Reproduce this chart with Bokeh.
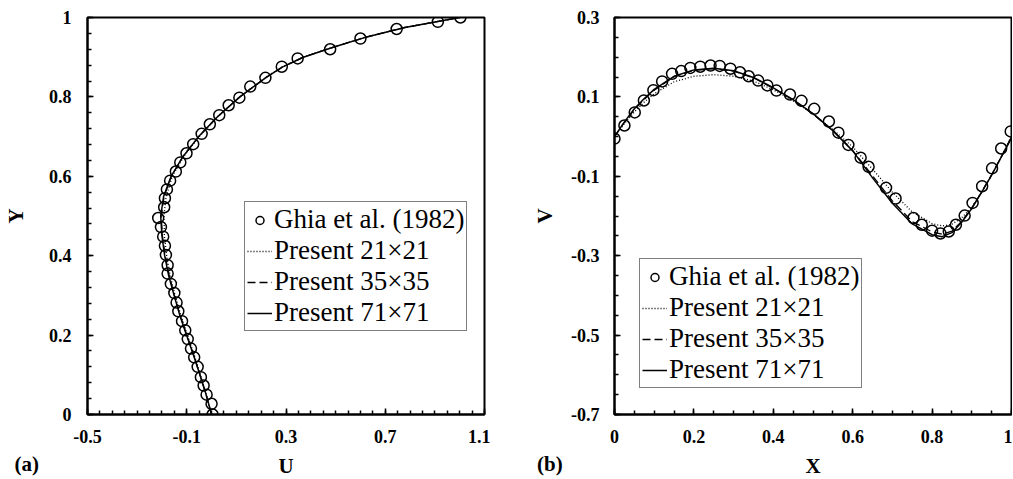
from bokeh.plotting import figure
from bokeh.layouts import row
from bokeh.models import Range1d, FixedTicker, Legend, LegendItem, Label
from bokeh.embed import file_html
from bokeh.resources import INLINE

# ---------------- Panel (a): U along vertical centreline ----------------
ghia_y = [1.0, 0.989, 0.971, 0.947, 0.920, 0.897, 0.876, 0.848, 0.826, 0.798,
          0.779, 0.754, 0.731, 0.707, 0.681, 0.658, 0.635, 0.612, 0.589, 0.567,
          0.545, 0.522, 0.495, 0.472, 0.448, 0.425, 0.402, 0.376, 0.355, 0.329,
          0.306, 0.282, 0.260, 0.235, 0.212, 0.190, 0.166, 0.144, 0.120, 0.094,
          0.073, 0.050, 0.027, 0.0]
ghia_u = [1.003, 0.912, 0.746, 0.600, 0.478, 0.347, 0.283, 0.217, 0.156, 0.112,
          0.069, 0.031, -0.007, -0.040, -0.074, -0.101, -0.126, -0.144, -0.167, -0.180,
          -0.188, -0.191, -0.215, -0.204, -0.195, -0.188, -0.184, -0.177, -0.177, -0.164,
          -0.150, -0.141, -0.134, -0.119, -0.106, -0.096, -0.083, -0.070, -0.056, -0.043,
          -0.032, -0.020, 0.000, 0.004]

y_line = [0.0, 0.05, 0.1, 0.15, 0.2, 0.25, 0.3, 0.35, 0.4, 0.45, 0.5, 0.55, 0.6,
          0.65, 0.7, 0.75, 0.8, 0.85, 0.875, 0.9, 0.925, 0.95, 0.975, 1.0]
u_21 = [0.0, -0.021, -0.045, -0.070, -0.097, -0.124, -0.147, -0.167, -0.181, -0.190,
        -0.192, -0.183, -0.158, -0.112, -0.050, 0.024, 0.113, 0.220, 0.283, 0.368,
        0.488, 0.618, 0.778, 1.0]
u_35 = [0.0, -0.022, -0.047, -0.072, -0.100, -0.127, -0.150, -0.171, -0.187, -0.198,
        -0.203, -0.191, -0.162, -0.115, -0.052, 0.024, 0.114, 0.222, 0.285, 0.370,
        0.490, 0.620, 0.780, 1.0]
u_71 = [0.0, -0.022, -0.047, -0.073, -0.101, -0.128, -0.151, -0.173, -0.189, -0.200,
        -0.205, -0.193, -0.163, -0.115, -0.052, 0.024, 0.114, 0.222, 0.285, 0.370,
        0.490, 0.620, 0.780, 1.0]

# ---------------- Panel (b): V along horizontal centreline ----------------
ghia_x = [0.0, 0.025, 0.051, 0.074, 0.098, 0.120, 0.145, 0.168, 0.191, 0.216,
          0.242, 0.265, 0.292, 0.316, 0.338, 0.362, 0.385, 0.408, 0.442, 0.471,
          0.503, 0.540, 0.564, 0.589, 0.620, 0.640, 0.684, 0.708, 0.753, 0.774,
          0.800, 0.821, 0.842, 0.860, 0.882, 0.902, 0.926, 0.951, 0.974, 0.998]
ghia_v = [-0.005, 0.028, 0.061, 0.091, 0.117, 0.139, 0.158, 0.165, 0.173, 0.176,
          0.179, 0.178, 0.171, 0.162, 0.152, 0.141, 0.129, 0.116, 0.106, 0.090,
          0.070, 0.038, 0.010, -0.021, -0.053, -0.076, -0.129, -0.156, -0.205, -0.222,
          -0.237, -0.244, -0.239, -0.222, -0.199, -0.167, -0.125, -0.080, -0.030, 0.013]

x_line = [0.0, 0.025, 0.05, 0.075, 0.1, 0.15, 0.2, 0.25, 0.3, 0.35, 0.4, 0.45, 0.5,
          0.55, 0.6, 0.65, 0.7, 0.75, 0.8, 0.825, 0.85, 0.875, 0.9, 0.925, 0.95, 0.975, 1.0]
v_21 = [0.0, 0.033, 0.062, 0.087, 0.108, 0.138, 0.152, 0.156, 0.152, 0.140, 0.118,
        0.090, 0.057, 0.018, -0.026, -0.082, -0.140, -0.190, -0.219, -0.225, -0.221,
        -0.204, -0.178, -0.140, -0.097, -0.050, 0.0]
v_35 = [0.0, 0.036, 0.068, 0.094, 0.117, 0.151, 0.167, 0.171, 0.165, 0.148, 0.122,
        0.092, 0.057, 0.015, -0.035, -0.099, -0.162, -0.214, -0.240, -0.246, -0.238,
        -0.213, -0.180, -0.139, -0.096, -0.050, 0.0]
v_71 = [0.0, 0.037, 0.070, 0.096, 0.119, 0.152, 0.168, 0.172, 0.166, 0.149, 0.123,
        0.093, 0.058, 0.015, -0.036, -0.104, -0.168, -0.220, -0.247, -0.252, -0.242,
        -0.215, -0.181, -0.140, -0.097, -0.050, -0.004]

# ---------------- Tick labels ----------------
a_xticks = [-0.5, -0.1, 0.3, 0.7, 1.1]
a_xlabels = ["-0.5", "-0.1", "0.3", "0.7", "1.1"]
a_yticks = [0.0, 0.2, 0.4, 0.6, 0.8, 1.0]
a_ylabels = ["0", "0.2", "0.4", "0.6", "0.8", "1"]
b_xticks = [0.0, 0.2, 0.4, 0.6, 0.8, 1.0]
b_xlabels = ["0", "0.2", "0.4", "0.6", "0.8", "1"]
b_yticks = [-0.7, -0.5, -0.3, -0.1, 0.1, 0.3]
b_ylabels = ["-0.7", "-0.5", "-0.3", "-0.1", "0.1", "0.3"]

SERIF = "Liberation Serif"


def minor(lo, hi, step):
    n = int(round((hi - lo) / step))
    return [round(lo + i * step, 4) for i in range(n + 1)]


def style_axis(ax, ticks, labels, minors, standoff, label_standoff):
    ax.ticker = FixedTicker(ticks=ticks, minor_ticks=minors)
    ax.major_label_overrides = {t: l for t, l in zip(ticks, labels)}
    ax.major_label_text_font = SERIF
    ax.major_label_text_font_style = "bold"
    ax.major_label_text_font_size = "18px"
    ax.major_label_text_color = "black"
    ax.major_label_standoff = standoff
    ax.axis_label_text_font = SERIF
    ax.axis_label_text_font_style = "bold"
    ax.axis_label_text_font_size = "21px"
    ax.axis_label_text_color = "black"
    ax.axis_label_standoff = label_standoff
    ax.axis_line_color = "black"
    ax.axis_line_width = 2
    ax.major_tick_in = 6
    ax.major_tick_out = 0
    ax.minor_tick_in = 4
    ax.minor_tick_out = 0
    ax.major_tick_line_color = "black"
    ax.minor_tick_line_color = "black"
    ax.major_tick_line_width = 1.5
    ax.minor_tick_line_width = 1.5


def make_panel(xr, yr, xlab, ylab, border_left, border_right):
    p = figure(x_range=Range1d(*xr), y_range=Range1d(*yr),
               frame_width=397, frame_height=397,
               min_border_left=border_left, min_border_right=border_right,
               min_border_top=17, min_border_bottom=64,
               output_backend="svg", toolbar_location=None,
               x_axis_label=xlab, y_axis_label=ylab)
    p.xgrid.visible = False
    p.ygrid.visible = False
    p.outline_line_color = "black"
    p.outline_line_width = 2
    p.outline_line_alpha = 1
    p.background_fill_color = "white"
    p.border_fill_color = "white"
    return p


def add_series(p, xs_line, c21, c35, c71, gx, gy, horizontal):
    if horizontal:
        r21 = p.line(xs_line, c21, line_color="black", line_width=1.3, line_dash="1 2")
        r35 = p.line(xs_line, c35, line_color="black", line_width=1.3, line_dash="8 4")
        r71 = p.line(xs_line, c71, line_color="black", line_width=1.5)
    else:
        r21 = p.line(c21, xs_line, line_color="black", line_width=1.3, line_dash="1 2")
        r35 = p.line(c35, xs_line, line_color="black", line_width=1.3, line_dash="8 4")
        r71 = p.line(c71, xs_line, line_color="black", line_width=1.5)
    sc = p.scatter(gx, gy, marker="circle", size=11, fill_color=None,
                   line_color="black", line_width=1.5)
    return sc, r21, r35, r71


def add_legend(p, rends, loc):
    sc, r21, r35, r71 = rends
    leg = Legend(items=[LegendItem(label="Ghia et al. (1982)", renderers=[sc]),
                        LegendItem(label="Present 21×21", renderers=[r21]),
                        LegendItem(label="Present 35×35", renderers=[r35]),
                        LegendItem(label="Present 71×71", renderers=[r71])],
                 location=loc)
    leg.label_text_font = SERIF
    leg.label_text_font_size = "27px"
    leg.label_text_color = "black"
    leg.glyph_width = 25
    leg.glyph_height = 20
    leg.label_standoff = 2
    leg.label_height = 20
    leg.spacing = 0
    leg.padding = 2
    leg.margin = 0
    leg.border_line_color = "black"
    leg.border_line_width = 1.5
    leg.background_fill_color = "white"
    leg.background_fill_alpha = 1
    p.add_layout(leg)


def panel_tag(text, x, y):
    return Label(x=x, y=y, text=text, text_baseline="bottom", text_align="left",
                 text_font=SERIF, text_font_style="bold", text_font_size="21px",
                 text_color="black")


# Panel (a)
pa = make_panel((-0.5, 1.1), (0.0, 1.0), "U", "Y", 75, 6)
style_axis(pa.xaxis[0], a_xticks, a_xlabels, minor(-0.5, 1.1, 0.05), 15, 8)
style_axis(pa.yaxis[0], a_yticks, a_ylabels, minor(0.0, 1.0, 0.04), 16, 18)
ra = add_series(pa, y_line, u_21, u_35, u_71, ghia_u, ghia_y, horizontal=False)
add_legend(pa, ra, (157, 83))
pa.add_layout(panel_tag("(a)", -0.794, -0.155), "below")

# Panel (b)
pb = make_panel((0.0, 1.0), (-0.7, 0.3), "X", "V", 124, 1)
style_axis(pb.xaxis[0], b_xticks, b_xlabels, minor(0.0, 1.0, 0.05), 15, 8)
style_axis(pb.yaxis[0], b_yticks, b_ylabels, minor(-0.7, 0.3, 0.05), 15, 11)
rb = add_series(pb, x_line, v_21, v_35, v_71, ghia_x, ghia_v, horizontal=True)
add_legend(pb, rb, (25, 26))
pb.add_layout(panel_tag("(b)", -0.195, -0.855), "below")

layout = row(pa, pb)
open("out.html", "w").write(file_html(layout, INLINE))
